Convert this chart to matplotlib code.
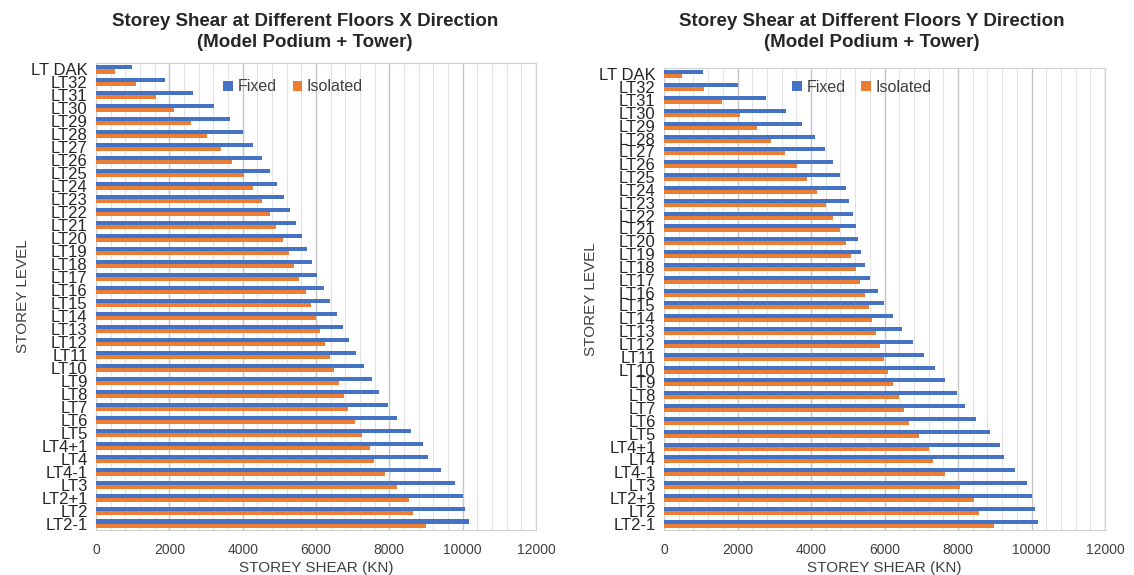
import numpy as np
import matplotlib.pyplot as plt
from matplotlib.ticker import MultipleLocator

levels = ['LT DAK', 'LT32', 'LT31', 'LT30', 'LT29', 'LT28', 'LT27', 'LT26', 'LT25',
          'LT24', 'LT23', 'LT22', 'LT21', 'LT20', 'LT19', 'LT18', 'LT17', 'LT16',
          'LT15', 'LT14', 'LT13', 'LT12', 'LT11', 'LT10', 'LT9', 'LT8', 'LT7', 'LT6',
          'LT5', 'LT4+1', 'LT4', 'LT4-1', 'LT3', 'LT2+1', 'LT2', 'LT2-1']

# X direction
fixed_x = [984, 1894, 2632, 3224, 3643, 3998, 4281, 4526, 4736, 4945, 5128, 5301,
           5446, 5619, 5756, 5902, 6038, 6211, 6393, 6566, 6740, 6913, 7095, 7304,
           7514, 7723, 7969, 8215, 8597, 8916, 9062, 9408, 9791, 10000, 10073, 10182]
isolated_x = [528, 1084, 1648, 2140, 2596, 3024, 3406, 3716, 4035, 4281, 4526, 4736,
              4909, 5091, 5264, 5410, 5546, 5719, 5865, 6002, 6111, 6248, 6393, 6494,
              6639, 6776, 6876, 7058, 7268, 7477, 7587, 7869, 8215, 8534, 8634, 8989]

# Y direction
fixed_y = [1055, 2027, 2773, 3327, 3755, 4109, 4382, 4591, 4800, 4945, 5045, 5155,
           5218, 5291, 5364, 5464, 5609, 5818, 5991, 6236, 6482, 6764, 7082, 7364,
           7636, 7964, 8200, 8482, 8864, 9145, 9255, 9564, 9882, 10018, 10091, 10164]
isolated_y = [491, 1091, 1582, 2073, 2527, 2909, 3300, 3609, 3891, 4173, 4418, 4591,
              4800, 4945, 5082, 5218, 5327, 5464, 5573, 5673, 5782, 5891, 5991, 6100,
              6236, 6382, 6518, 6655, 6936, 7218, 7327, 7636, 8064, 8445, 8582, 8973]

BLUE = '#4472C4'
ORANGE = '#ED7D31'
TXT = '#404040'

plt.rcParams['font.family'] = ['Liberation Sans', 'DejaVu Sans']


def draw_panel(ax, fixed, isolated, leg_xy):
    pos = np.arange(len(levels))
    h = 0.31
    ax.barh(pos - h / 2, fixed, height=h, color=BLUE, label='Fixed', zorder=3)
    ax.barh(pos + h / 2, isolated, height=h, color=ORANGE, label='Isolated', zorder=3)
    ax.set_ylim(len(levels) - 0.5, -0.5)
    ax.set_xlim(0, 12000)
    ax.xaxis.set_major_locator(MultipleLocator(2000))
    ax.xaxis.set_minor_locator(MultipleLocator(400))
    ax.grid(axis='x', which='major', color='#c4c4c4', linewidth=1.0, zorder=0)
    ax.grid(axis='x', which='minor', color='#e2e2e2', linewidth=0.8, zorder=0)
    ax.set_yticks(pos)
    ax.set_yticklabels(levels, fontsize=12, color='#262626')
    ax.tick_params(axis='both', which='both', length=0)
    ax.tick_params(axis='x', labelsize=10, labelcolor=TXT, pad=9)
    ax.tick_params(axis='y', pad=6)
    for s in ax.spines.values():
        s.set_color('#d0d0d0')
    ax.set_xlabel('STOREY SHEAR (KN)', fontsize=11, color=TXT, labelpad=3)
    ax.set_ylabel('STOREY LEVEL', fontsize=11, color=TXT, labelpad=1)
    ax.legend(loc='center', bbox_to_anchor=leg_xy, ncol=2, frameon=False,
              fontsize=11.5, handlelength=0.6, handleheight=0.6, handletextpad=0.3,
              columnspacing=1.0, labelcolor=TXT)


fig = plt.figure(figsize=(11.34, 5.75), dpi=100)
ax1 = fig.add_axes([96 / 1134, 1 - 530 / 575, 440 / 1134, 467 / 575])
ax2 = fig.add_axes([664 / 1134, 1 - 530 / 575, 441 / 1134, 462 / 575])

draw_panel(ax1, fixed_x, isolated_x, (0.448, 0.949))
draw_panel(ax2, fixed_y, isolated_y, (0.449, 0.958))

title_font = ['Liberation Sans Narrow', 'Liberation Sans', 'DejaVu Sans']
fig.text(305 / 1134, 1 - 32 / 575,
         'Storey Shear at Different Floors X Direction\n(Model Podium + Tower)',
         ha='center', va='center', fontsize=13.5, fontweight='bold',
         family=title_font, color='#262626', linespacing=1.25)
fig.text(872 / 1134, 1 - 32 / 575,
         'Storey Shear at Different Floors Y Direction\n(Model Podium + Tower)',
         ha='center', va='center', fontsize=13.5, fontweight='bold',
         family=title_font, color='#262626', linespacing=1.25)

fig.savefig('out.png', dpi=100)
